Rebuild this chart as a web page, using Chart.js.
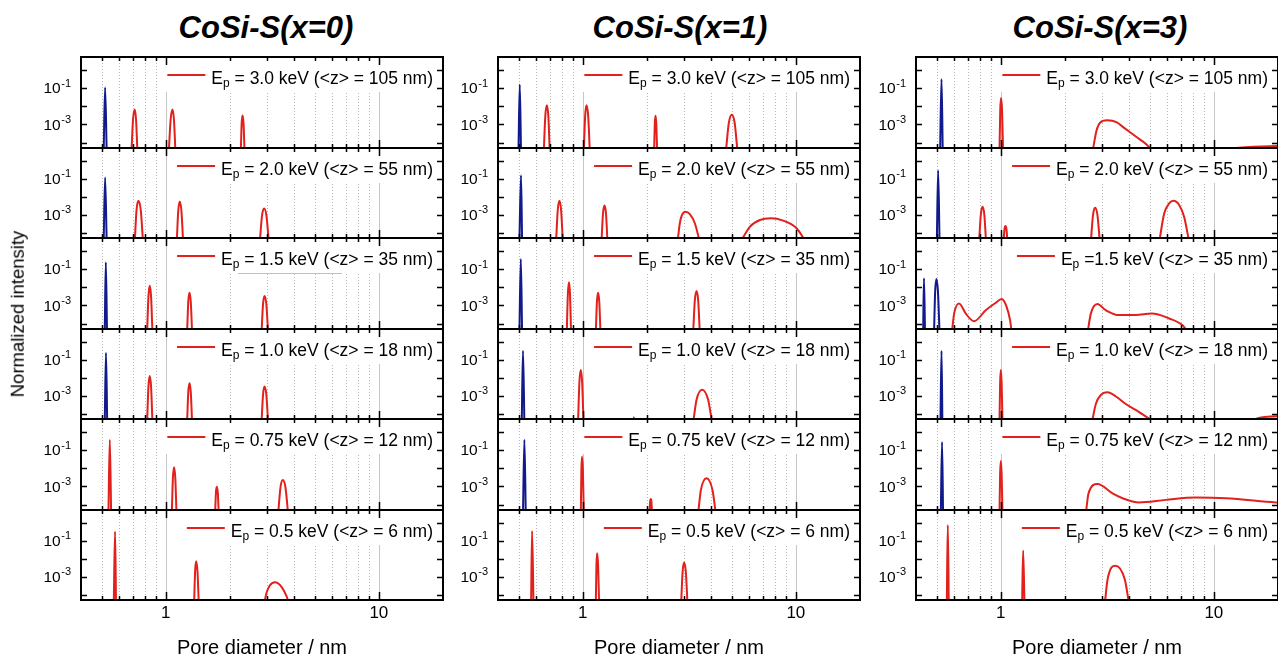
<!DOCTYPE html>
<html>
<head>
<meta charset="utf-8">
<title>CoSi-S pore size distributions</title>
<script src="https://cdn.jsdelivr.net/npm/chart.js@4.4.1/dist/chart.umd.min.js"></script>
<style>
  html, body { margin: 0; padding: 0; background: #fff; }
  body { width: 1278px; height: 661px; position: relative; overflow: hidden;
         font-family: "Liberation Sans", Arial, Helvetica, sans-serif; color: #000; }
  canvas { position: absolute; }
  .lbl { position: absolute; white-space: nowrap; line-height: 1; }
  .title { font-weight: bold; font-style: italic; font-size: 31px; transform: translateX(-50%); }
  .xtitle { font-size: 20px; transform: translateX(-50%); }
  .ytitle { font-size: 18.5px; transform: translate(-50%, -50%) rotate(-90deg); }
</style>
</head>
<body>
<script>
// ---------------------------------------------------------------
// Pore size distributions, log-log, one panel per beam energy.
// Each curve is a list of segments; each segment is [diameter nm, intensity] pairs.
// ---------------------------------------------------------------

const titles = ['CoSi-S(x=0)', 'CoSi-S(x=1)', 'CoSi-S(x=3)'];
const energies = ['3.0', '2.0', '1.5', '1.0', '0.75', '0.5'];
const meanDepths = ['105', '55', '35', '18', '12', '6'];
const xTickLabels = [1, 10];
const yTickLabels = [0.1, 0.001];

// ---- CoSi-S(x=0) ----
const x0_e30_blue = [[[0.511, 3e-5], [0.519, 0.106], [0.528, 3e-5]]];
const x0_e30_red = [
  [[0.690, 3e-5], [0.702, 1.9e-3], [0.715, 6.5e-3], [0.725, 1.9e-3], [0.736, 3e-5]],
  [[1.033, 3e-5], [1.054, 1.9e-3], [1.075, 6.5e-3], [1.092, 1.9e-3], [1.110, 3e-5]],
  [[2.249, 3e-5], [2.270, 1.1e-3], [2.292, 3.1e-3], [2.317, 1.1e-3], [2.342, 3e-5]]
];
const x0_e20_blue = [[[0.511, 3e-5], [0.519, 0.114], [0.528, 3e-5]]];
const x0_e20_red = [
  [[0.715, 3e-5], [0.729, 1.8e-3], [0.744, 5.8e-3], [0.763, 1.8e-3], [0.782, 3e-5]],
  [[1.126, 3e-5], [1.144, 1.6e-3], [1.163, 5.1e-3], [1.184, 1.6e-3], [1.206, 3e-5]],
  [[2.763, 3e-5], [2.828, 8.6e-4], [2.894, 2.2e-3], [2.968, 8.6e-4], [3.045, 3e-5]]
];
const x0_e15_blue = [[[0.517, 3e-5], [0.523, 0.233], [0.530, 3e-5]]];
const x0_e15_red = [
  [[0.817, 3e-5], [0.829, 3.0e-3], [0.841, 1.19e-2], [0.853, 3.0e-3], [0.866, 3e-5]],
  [[1.259, 3e-5], [1.275, 1.56e-3], [1.292, 4.9e-3], [1.310, 1.56e-3], [1.329, 3e-5]],
  [[2.814, 3e-5], [2.860, 1.16e-3], [2.907, 3.3e-3], [2.964, 1.16e-3], [3.022, 3e-5]]
];
const x0_e10_blue = [[[0.517, 3e-5], [0.524, 0.239], [0.531, 3e-5]]];
const x0_e10_red = [
  [[0.817, 3e-5], [0.829, 3.1e-3], [0.841, 1.23e-2], [0.853, 3.1e-3], [0.866, 3e-5]],
  [[1.259, 3e-5], [1.275, 1.56e-3], [1.292, 4.9e-3], [1.310, 1.56e-3], [1.329, 3e-5]],
  [[2.814, 3e-5], [2.860, 1.13e-3], [2.907, 3.2e-3], [2.964, 1.13e-3], [3.022, 3e-5]]
];
const x0_e075_red = [
  [[0.538, 3e-5], [0.546, 0.364], [0.554, 3e-5]],
  [[1.067, 3e-5], [1.080, 2.9e-3], [1.094, 1.13e-2], [1.108, 2.9e-3], [1.123, 3e-5]],
  [[1.704, 3e-5], [1.719, 4.6e-4], [1.735, 9.6e-4], [1.754, 4.6e-4], [1.773, 3e-5]],
  [[3.367, 3e-5], [3.453, 8.6e-4], [3.542, 2.2e-3], [3.645, 8.6e-4], [3.752, 3e-5]]
];
const x0_e05_red = [
  [[0.570, 3e-5], [0.578, 0.32], [0.584, 3e-5]],
  [[1.358, 3e-5], [1.373, 2.0e-3], [1.388, 7.0e-3], [1.408, 2.0e-3], [1.429, 3e-5]],
  [[2.894, 3e-5], [2.971, 1.25e-4], [3.077, 3.2e-4], [3.250, 4.8e-4], [3.493, 2.7e-4], [3.687, 8.1e-5], [3.792, 3e-5]]
];

// ---- CoSi-S(x=1) ----
const x1_e30_blue = [[[0.499, 3e-5], [0.506, 0.155], [0.513, 3e-5]]];
const x1_e30_red = [
  [[0.656, 3e-5], [0.667, 2.9e-3], [0.678, 1.11e-2], [0.689, 2.9e-3], [0.700, 3e-5]],
  [[1.011, 3e-5], [1.026, 2.9e-3], [1.041, 1.11e-2], [1.060, 2.9e-3], [1.079, 3e-5]],
  [[2.161, 3e-5], [2.177, 1.08e-3], [2.194, 3.0e-3], [2.213, 1.08e-3], [2.233, 3e-5]],
  [[4.692, 3e-5], [4.846, 1.18e-3], [5.006, 3.4e-3], [5.163, 1.18e-3], [5.325, 3e-5]]
];
const x1_e20_blue = [[[0.504, 3e-5], [0.513, 0.153], [0.519, 3e-5]]];
const x1_e20_red = [
  [[0.749, 3e-5], [0.763, 1.8e-3], [0.777, 5.8e-3], [0.791, 1.8e-3], [0.806, 3e-5]],
  [[1.224, 3e-5], [1.244, 1.13e-3], [1.264, 3.2e-3], [1.285, 1.13e-3], [1.306, 3e-5]],
  [[2.784, 3e-5], [2.854, 3.3e-4], [2.907, 8.3e-4], [3.035, 1.44e-3], [3.18, 1.07e-3], [3.357, 3.3e-4], [3.542, 3e-5]],
  [[5.50, 3e-5], [6.08, 2.1e-4], [6.78, 5.0e-4], [7.63, 6.2e-4], [8.72, 4.6e-4], [10.08, 1.74e-4], [11.14, 3e-5]]
];
const x1_e15_blue = [[[0.504, 3e-5], [0.512, 0.355], [0.519, 3e-5]]];
const x1_e15_red = [
  [[0.841, 3e-5], [0.851, 4.2e-3], [0.862, 1.83e-2], [0.871, 4.2e-3], [0.881, 3e-5]],
  [[1.151, 3e-5], [1.165, 1.56e-3], [1.180, 4.9e-3], [1.195, 1.56e-3], [1.211, 3e-5]],
  [[3.295, 3e-5], [3.356, 1.84e-3], [3.419, 6.1e-3], [3.480, 1.84e-3], [3.542, 3e-5]]
];
const x1_e10_blue = [[[0.517, 3e-5], [0.524, 0.308], [0.532, 3e-5]]];
const x1_e10_red = [
  [[0.950, 3e-5], [0.964, 5.5e-3], [0.979, 2.65e-2], [0.993, 5.5e-3], [1.008, 3e-5]],
  [[1.725, 3e-5], [1.735, 6.3e-5], [1.745, 3e-5]],
  [[3.295, 3e-5], [3.419, 5.8e-4], [3.632, 2.1e-3], [3.875, 5.8e-4], [4.046, 3e-5]]
];
const x1_e075_blue = [[[0.524, 3e-5], [0.532, 0.364], [0.540, 3e-5]]];
const x1_e075_red = [
  [[0.979, 3e-5], [0.985, 7.9e-3], [0.992, 4.3e-2], [1.001, 7.9e-3], [1.011, 3e-5]],
  [[2.056, 3e-5], [2.070, 1.42e-4], [2.085, 2.0e-4], [2.100, 1.42e-4], [2.115, 3e-5]],
  [[3.478, 3e-5], [3.581, 6.1e-4], [3.809, 2.8e-3], [4.064, 6.1e-4], [4.211, 3e-5]]
];
const x1_e05_red = [
  [[0.572, 3e-5], [0.578, 0.346], [0.587, 3e-5]],
  [[1.151, 3e-5], [1.159, 4.5e-3], [1.167, 2.0e-2], [1.180, 4.5e-3], [1.193, 3e-5]],
  [[2.894, 3e-5], [2.941, 1.84e-3], [2.989, 6.1e-3], [3.045, 1.84e-3], [3.101, 3e-5]]
];

// ---- CoSi-S(x=3) ----
const x3_e30_blue = [[[0.519, 3e-5], [0.527, 0.305], [0.534, 3e-5]]];
const x3_e30_red = [
  [[0.986, 3e-5], [0.994, 5.8e-3], [1.003, 2.8e-2], [1.014, 5.8e-3], [1.025, 3e-5]],
  [[2.695, 3e-5], [2.814, 4.6e-4], [2.92, 1.2e-3], [3.155, 1.65e-3], [3.49, 1.33e-3], [3.752, 7.0e-4], [4.335, 2.0e-4], [4.83, 7.8e-5], [5.19, 3e-5]],
  [[11.5, 2.5e-5], [12.8, 5.0e-5], [15.3, 5.8e-5], [20, 6.4e-5]]
];
const x3_e20_blue = [[[0.501, 3e-5], [0.508, 0.289], [0.516, 3e-5]]];
const x3_e20_red = [
  [[0.791, 3e-5], [0.806, 1.0e-3], [0.821, 2.7e-3], [0.837, 1.0e-3], [0.853, 3e-5]],
  [[1.030, 3e-5], [1.041, 1.57e-4], [1.052, 2.3e-4], [1.063, 1.57e-4], [1.075, 3e-5]],
  [[2.646, 3e-5], [2.708, 9.1e-4], [2.771, 2.4e-3], [2.843, 9.1e-4], [2.916, 3e-5]],
  [[5.54, 3e-5], [5.85, 1.17e-3], [6.17, 4.2e-3], [6.47, 5.8e-3], [6.87, 3.4e-3], [7.25, 7.6e-4], [7.66, 3e-5]]
];
const x3_e15_blue = [
  [[0.432, 3e-5], [0.436, 3.05e-2], [0.441, 3e-5]],
  [[0.486, 3e-5], [0.492, 5.8e-3], [0.499, 2.8e-2], [0.507, 5.8e-3], [0.516, 3e-5]]
];
const x3_e15_red = [
  [[0.589, 3e-5], [0.604, 3.5e-4], [0.637, 1.26e-3], [0.685, 3.5e-4], [0.749, 1.33e-4], [0.850, 5.4e-4], [0.94, 1.3e-3], [1.01, 2.2e-3], [1.064, 8.5e-4], [1.106, 1.5e-4], [1.126, 3e-5]],
  [[2.553, 3e-5], [2.646, 3.5e-4], [2.84, 1.18e-3], [3.11, 5.4e-4], [3.59, 2.9e-4], [4.30, 2.9e-4], [5.1, 3.5e-4], [6.17, 1.9e-4], [7.13, 8e-5], [7.62, 3e-5]]
];
const x3_e10_blue = [[[0.521, 3e-5], [0.527, 0.308], [0.532, 3e-5]]];
const x3_e10_red = [
  [[0.986, 3e-5], [0.993, 5.5e-3], [1.000, 2.65e-2], [1.009, 5.5e-3], [1.019, 3e-5]],
  [[2.675, 3e-5], [2.793, 3.4e-4], [2.95, 1.1e-3], [3.17, 1.55e-3], [3.47, 8.9e-4], [3.86, 3.4e-4], [4.46, 1.2e-4], [5.34, 3e-5]],
  [[15.0, 3e-5], [15.7, 5.0e-5], [19.9, 7.0e-5], [20, 7.0e-5]]
];
const x3_e075_blue = [[[0.523, 3e-5], [0.530, 0.272], [0.536, 3e-5]]];
const x3_e075_red = [
  [[0.986, 3e-5], [0.993, 5.3e-3], [1.000, 2.5e-2], [1.009, 5.3e-3], [1.019, 3e-5]],
  [[2.506, 3e-5], [2.581, 4.1e-4], [2.844, 1.35e-3], [3.345, 4.1e-4], [3.73, 2.2e-4], [4.46, 1.3e-4], [5.95, 1.8e-4], [8.23, 2.4e-4], [11.38, 2.2e-4], [19.5, 1.3e-4], [20, 1.28e-4]]
];
const x3_e05_red = [
  [[0.558, 3e-5], [0.564, 0.74], [0.570, 3e-5]],
  [[1.259, 3e-5], [1.273, 2.8e-2], [1.292, 3e-5]],
  [[3.077, 3e-5], [3.17, 6.8e-4], [3.456, 4.0e-3], [3.82, 6.8e-4], [4.0, 3e-5]]
];

// legend text after "E" with subscript "p", per column
const legendX0 = energies.map((e, i) => ` = ${e} keV (<z> = ${meanDepths[i]} nm)`);
const legendX1 = energies.map((e, i) => ` = ${e} keV (<z> = ${meanDepths[i]} nm)`);
const legendX3 = energies.map((e, i) => (i === 2 ? ` =${e}` : ` = ${e}`) + ` keV (<z> = ${meanDepths[i]} nm)`);

const columns = [
  { red: [x0_e30_red, x0_e20_red, x0_e15_red, x0_e10_red, x0_e075_red, x0_e05_red],
    blue: [x0_e30_blue, x0_e20_blue, x0_e15_blue, x0_e10_blue, null, null], legend: legendX0 },
  { red: [x1_e30_red, x1_e20_red, x1_e15_red, x1_e10_red, x1_e075_red, x1_e05_red],
    blue: [x1_e30_blue, x1_e20_blue, x1_e15_blue, x1_e10_blue, x1_e075_blue, null], legend: legendX1 },
  { red: [x3_e30_red, x3_e20_red, x3_e15_red, x3_e10_red, x3_e075_red, x3_e05_red],
    blue: [x3_e30_blue, x3_e20_blue, x3_e15_blue, x3_e10_blue, x3_e075_blue, null], legend: legendX3 }
];

// ---------------- layout & style ----------------
const FONT = '"Liberation Sans", Arial, Helvetica, sans-serif';
const RED = '#e2201c';
const BLUE = '#111a8a';
const colLeft = [81, 498, 916];
const plotW = 362;
const rowEdges = [57, 148, 238, 329, 419, 510, 600];
const titleCenters = [266, 680, 1100];
const PAD_L = 56, PAD_R = 6, PAD_T = 4, PAD_B = 4, PAD_B_LAST = 34;

const gridMinor = [0.5, 0.6, 0.7, 0.8, 0.9, 2, 3, 4, 5, 6, 7, 8, 9];
const gridMajor = [1, 10];
const yDecades = [1, 0.1, 0.01, 0.001, 0.0001];

function toPoints(segments) {
  const pts = [];
  segments.forEach((seg, i) => {
    if (i > 0) pts.push({ x: seg[0][0], y: null });
    seg.forEach(([x, y]) => pts.push({ x, y }));
  });
  return pts;
}

function legendLayout(ctx, a, tail) {
  ctx.font = `17.5px ${FONT}`;
  const wE = ctx.measureText('E').width;
  const wT = ctx.measureText(tail).width;
  ctx.font = `12px ${FONT}`;
  const wP = ctx.measureText('p').width;
  const textX = a.right - 10 - (wE + wP + wT);
  return { textX, wE, wP, lineX0: textX - 44, lineX1: textX - 6 };
}

const panelDecor = {
  id: 'panelDecor',
  beforeDatasetsDraw(chart, args, o) {
    const { ctx, chartArea: a } = chart;
    const xs = chart.scales.x;
    ctx.save();
    ctx.lineWidth = 1;
    ctx.strokeStyle = '#b8b8b8';
    ctx.setLineDash([1, 2]);
    gridMinor.forEach(v => {
      const px = Math.round(xs.getPixelForValue(v)) + 0.5;
      ctx.beginPath(); ctx.moveTo(px, a.top); ctx.lineTo(px, a.bottom); ctx.stroke();
    });
    ctx.setLineDash([]);
    ctx.strokeStyle = '#c6c6c6';
    gridMajor.forEach(v => {
      const px = Math.round(xs.getPixelForValue(v)) + 0.5;
      ctx.beginPath(); ctx.moveTo(px, a.top); ctx.lineTo(px, a.bottom); ctx.stroke();
    });
    // white backdrop of the legend
    const lg = legendLayout(ctx, a, o.tail);
    ctx.fillStyle = '#fff';
    ctx.fillRect(lg.lineX0 - 4, a.top + 1, a.right - 1 - (lg.lineX0 - 4), 34);
    ctx.restore();
  },
  afterDatasetsDraw(chart, args, o) {
    const { ctx, chartArea: a } = chart;
    const xs = chart.scales.x, ys = chart.scales.y;
    ctx.save();
    // frame
    ctx.strokeStyle = '#000';
    ctx.lineWidth = 2;
    ctx.strokeRect(a.left, a.top, a.right - a.left, a.bottom - a.top);
    // x ticks, inward on bottom and top
    ctx.lineWidth = 1.5;
    const xt = gridMinor.map(v => [v, 4]).concat(gridMajor.map(v => [v, 8]));
    xt.forEach(([v, len]) => {
      const px = Math.round(xs.getPixelForValue(v)) + 0.5;
      ctx.beginPath();
      ctx.moveTo(px, a.bottom); ctx.lineTo(px, a.bottom - len);
      ctx.moveTo(px, a.top); ctx.lineTo(px, a.top + len);
      ctx.stroke();
    });
    // y ticks, inward on left and right
    yDecades.forEach(v => {
      const py = Math.round(ys.getPixelForValue(v)) + 0.5;
      ctx.beginPath();
      ctx.moveTo(a.left, py); ctx.lineTo(a.left + 6, py);
      ctx.moveTo(a.right, py); ctx.lineTo(a.right - 6, py);
      ctx.stroke();
    });
    // y tick labels: 10 with a superscript exponent
    ctx.fillStyle = '#000';
    ctx.textBaseline = 'alphabetic';
    yTickLabels.forEach(v => {
      const py = ys.getPixelForValue(v);
      const exp = String(Math.round(Math.log10(v)));
      ctx.font = `11px ${FONT}`;
      const wExp = ctx.measureText(exp).width;
      ctx.font = `15.5px ${FONT}`;
      const wBase = ctx.measureText('10').width;
      const right = a.left - 10;
      ctx.textAlign = 'left';
      ctx.fillText('10', right - wExp - wBase - 0.5, py + 5.5);
      ctx.font = `11px ${FONT}`;
      ctx.fillText(exp, right - wExp, py - 1.2);
    });
    // x tick labels on the lowest panel
    if (o.bottomRow) {
      ctx.font = `17px ${FONT}`;
      ctx.textAlign = 'center';
      xTickLabels.forEach(v => {
        ctx.fillText(String(v), xs.getPixelForValue(v), a.bottom + 18);
      });
    }
    // legend: red line sample + E_p label
    const lg = legendLayout(ctx, a, o.tail);
    ctx.strokeStyle = RED;
    ctx.lineWidth = 2;
    ctx.beginPath(); ctx.moveTo(lg.lineX0, a.top + 18); ctx.lineTo(lg.lineX1, a.top + 18); ctx.stroke();
    ctx.textAlign = 'left';
    ctx.font = `17.5px ${FONT}`;
    ctx.fillText('E', lg.textX, a.top + 26.5);
    ctx.fillText(o.tail, lg.textX + lg.wE + lg.wP, a.top + 26.5);
    ctx.font = `12px ${FONT}`;
    ctx.fillText('p', lg.textX + lg.wE, a.top + 29.5);
    if (o.underline) {
      ctx.strokeStyle = 'rgba(226,150,150,0.75)';
      ctx.lineWidth = 1;
      ctx.beginPath(); ctx.moveTo(lg.textX + 17, a.top + 35.5); ctx.lineTo(lg.textX + 121, a.top + 35.5); ctx.stroke();
    }
    ctx.restore();
  }
};

// ---------------- build the 3 x 6 panels ----------------
columns.forEach((col, c) => {
  for (let r = 0; r < 6; r++) {
    const top = rowEdges[r], bottom = rowEdges[r + 1];
    const padB = r === 5 ? PAD_B_LAST : PAD_B;
    const cv = document.createElement('canvas');
    cv.width = plotW + PAD_L + PAD_R;
    cv.height = (bottom - top) + PAD_T + padB;
    cv.style.left = (colLeft[c] - PAD_L) + 'px';
    cv.style.top = (top - PAD_T) + 'px';
    document.body.appendChild(cv);

    const datasets = [{
      data: toPoints(col.red[r]),
      borderColor: RED, borderWidth: 2, pointRadius: 0,
      cubicInterpolationMode: 'monotone', spanGaps: false, fill: false
    }];
    if (col.blue[r]) {
      datasets.push({
        data: toPoints(col.blue[r]),
        borderColor: BLUE, borderWidth: 2, pointRadius: 0,
        cubicInterpolationMode: 'monotone', spanGaps: false, fill: false
      });
    }

    new Chart(cv, {
      type: 'line',
      data: { datasets },
      options: {
        responsive: false,
        animation: false,
        events: [],
        layout: { padding: { left: PAD_L, right: PAD_R, top: PAD_T, bottom: padB } },
        scales: {
          x: { type: 'logarithmic', min: 0.4, max: 20, display: false },
          y: { type: 'logarithmic', min: 5e-5, max: 5, display: false }
        },
        plugins: {
          legend: { display: false },
          tooltip: { enabled: false },
          panelDecor: { tail: col.legend[r], bottomRow: r === 5, underline: c === 0 && r === 2 }
        }
      },
      plugins: [panelDecor]
    });
  }
});

// ---------------- titles ----------------
function addLabel(cls, text, left, top) {
  const d = document.createElement('div');
  d.className = 'lbl ' + cls;
  d.textContent = text;
  d.style.left = left + 'px';
  d.style.top = top + 'px';
  document.body.appendChild(d);
}
titles.forEach((t, c) => addLabel('title', t, titleCenters[c], 12.3));
colLeft.forEach(l => addLabel('xtitle', 'Pore diameter / nm', l + plotW / 2, 637));
addLabel('ytitle', 'Normalized intensity', 18.3, 314);
</script>
</body>
</html>
